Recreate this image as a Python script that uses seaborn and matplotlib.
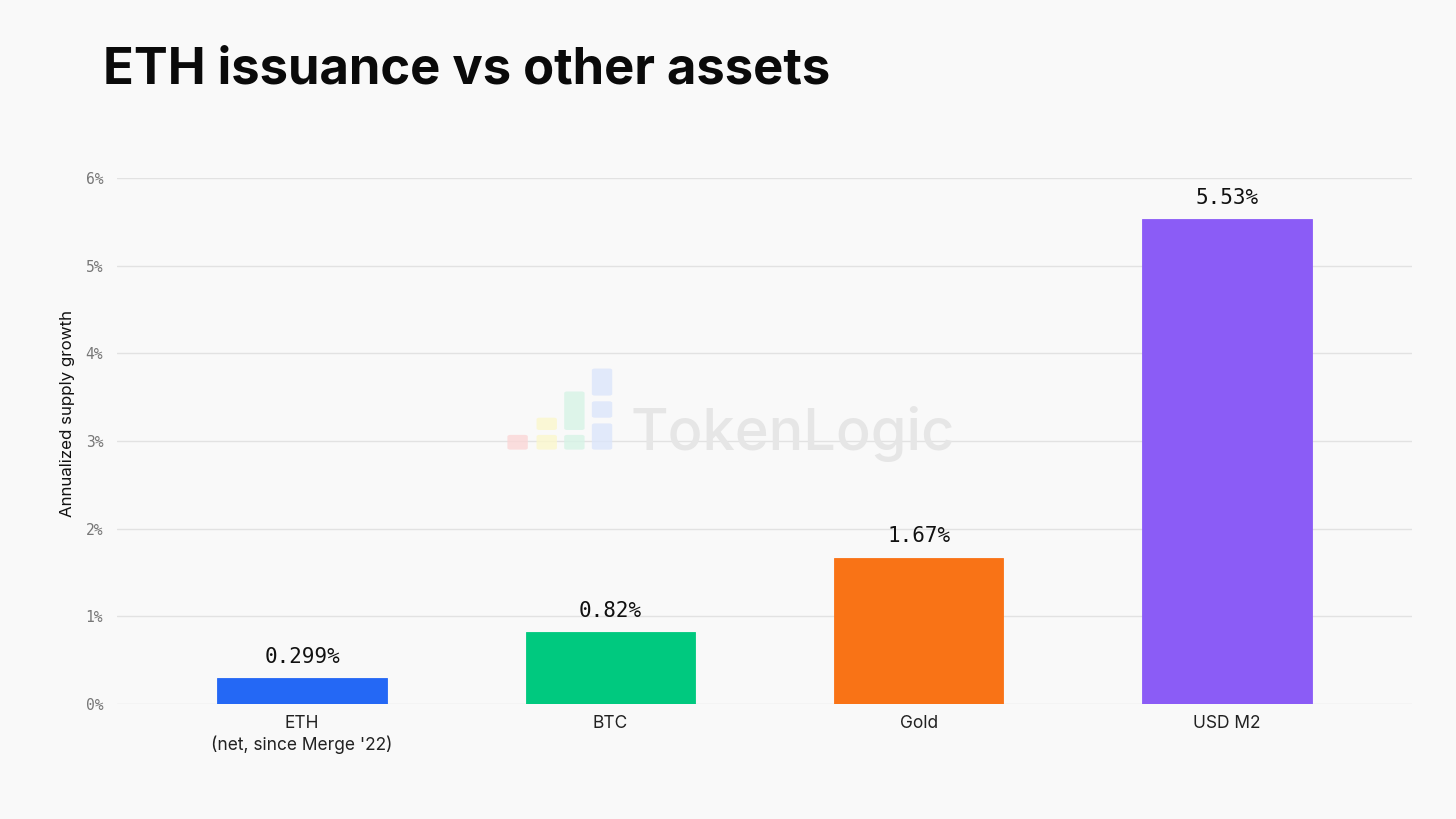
import numpy as np
import pandas as pd
import matplotlib
matplotlib.use("Agg")
import matplotlib.pyplot as plt
from matplotlib.patches import FancyBboxPatch
import seaborn as sns

# data
assets = ["ETH\n(net, since Merge '22)", "BTC", "Gold", "USD M2"]
growth = [0.299, 0.82, 1.67, 5.53]
value_labels = ["0.299%", "0.82%", "1.67%", "5.53%"]
bar_colors = ["#2468f5", "#00c97f", "#f97316", "#8b5cf6"]
y_ticks = [0, 1, 2, 3, 4, 5, 6]

BG = "#f9f9f9"

sns.set_theme(style="white")
plt.rcParams["font.family"] = ["Inter", "DejaVu Sans"]

df = pd.DataFrame({"asset": assets, "growth": growth})

fig = plt.figure(figsize=(14.56, 8.19), dpi=100, facecolor=BG)
ax = fig.add_axes([0.0804, 0.1404, 0.8894, 0.6423])
ax.set_facecolor(BG)

# watermark (behind everything)
wm_boxes = [
    (0.3485, 0.451, 0.014, 0.018, "#fbd6d6"),
    (0.3685, 0.451, 0.014, 0.018, "#fbf7cc"),
    (0.3685, 0.475, 0.014, 0.015, "#fbf7cc"),
    (0.3875, 0.451, 0.014, 0.018, "#d6f3e6"),
    (0.3875, 0.475, 0.014, 0.047, "#d6f3e6"),
    (0.4065, 0.451, 0.014, 0.032, "#dbe5fb"),
    (0.4065, 0.490, 0.014, 0.020, "#dbe5fb"),
    (0.4065, 0.517, 0.014, 0.033, "#dbe5fb"),
]
for x, y, w, h, c in wm_boxes:
    fig.patches.append(FancyBboxPatch((x, y), w, h, boxstyle="round,pad=0,rounding_size=0.002",
                                      transform=fig.transFigure, facecolor=c, edgecolor="none",
                                      zorder=0, alpha=0.8))
fig.text(0.433, 0.470, "TokenLogic", fontsize=41.5, color="#e6e6e6", ha="left", va="center",
         fontweight="medium", zorder=0)

sns.barplot(data=df, x="asset", y="growth", hue="asset", palette=bar_colors, legend=False,
            width=0.55, saturation=1, ax=ax, zorder=3)
for p in ax.patches:
    p.set_edgecolor(p.get_facecolor())
    p.set_linewidth(0.6)

for i, (v, lab) in enumerate(zip(growth, value_labels)):
    ax.annotate(lab, (i, v), xytext=(0, 8), textcoords="offset points",
                ha="center", va="bottom", fontsize=15, family="DejaVu Sans Mono",
                color="#111111", zorder=4)

ax.set_xlim(-0.6, 3.6)
ax.set_ylim(0, 6)
ax.set_yticks(y_ticks)
ax.set_yticklabels([f"{t}%" for t in y_ticks], family="DejaVu Sans Mono", fontsize=10.5,
                   color="#777777")
ax.tick_params(axis="y", length=0, pad=10)
ax.tick_params(axis="x", length=0, pad=8, labelsize=12.5, labelcolor="#222222")
ax.grid(axis="y", color="#e2e2e2", linewidth=1, zorder=0)
ax.set_axisbelow(True)
for s in ax.spines.values():
    s.set_visible(False)

ax.set_xlabel("")
ax.set_ylabel("Annualized supply growth", fontsize=12.2, color="#111111")
ax.yaxis.set_label_coords(-0.0324, 0.553)

fig.text(0.0705, 0.915, "ETH issuance vs other assets", fontsize=36.5, fontweight="bold",
         color="#0a0a0a", ha="left", va="center")

fig.savefig("out.png", dpi=100, facecolor=BG)
